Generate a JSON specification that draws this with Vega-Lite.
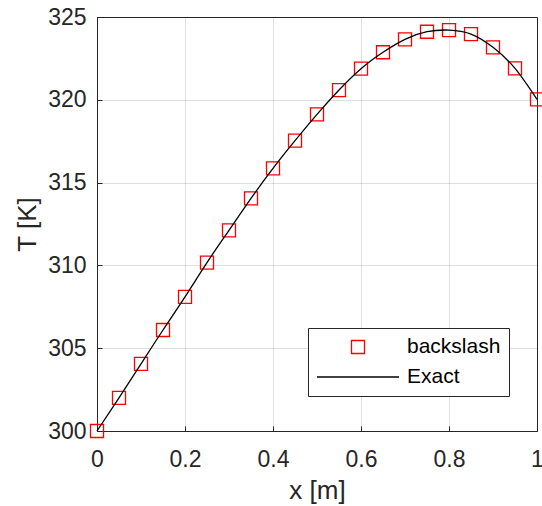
{
  "$schema": "https://vega.github.io/schema/vega-lite/v6.json",
  "autosize": "none",
  "width": 440,
  "height": 414,
  "padding": {"left": 97, "top": 17, "right": 5, "bottom": 75},
  "background": "white",
  "config": {
    "font": "Liberation Sans",
    "view": {"stroke": "#262626", "strokeWidth": 1},
    "axis": {
      "domainColor": "#262626",
      "gridColor": "#262626",
      "gridOpacity": 0.15,
      "labelColor": "#262626",
      "titleColor": "#262626",
      "labelFont": "Liberation Sans",
      "titleFont": "Liberation Sans",
      "labelFontSize": 23,
      "titleFontSize": 26,
      "titleFontWeight": "normal",
      "ticks": true,
      "tickSize": -5,
      "tickColor": "#262626"
    }
  },
  "datasets": {
    "numerical": [
      {"x": 0.0, "T": 300.0, "series": "backslash"},
      {"x": 0.05, "T": 302.0, "series": "backslash"},
      {"x": 0.1, "T": 304.05, "series": "backslash"},
      {"x": 0.15, "T": 306.1, "series": "backslash"},
      {"x": 0.2, "T": 308.1, "series": "backslash"},
      {"x": 0.25, "T": 310.17, "series": "backslash"},
      {"x": 0.3, "T": 312.12, "series": "backslash"},
      {"x": 0.35, "T": 314.05, "series": "backslash"},
      {"x": 0.4, "T": 315.86, "series": "backslash"},
      {"x": 0.45, "T": 317.53, "series": "backslash"},
      {"x": 0.5, "T": 319.12, "series": "backslash"},
      {"x": 0.55, "T": 320.59, "series": "backslash"},
      {"x": 0.6, "T": 321.88, "series": "backslash"},
      {"x": 0.65, "T": 322.87, "series": "backslash"},
      {"x": 0.7, "T": 323.65, "series": "backslash"},
      {"x": 0.75, "T": 324.11, "series": "backslash"},
      {"x": 0.8, "T": 324.21, "series": "backslash"},
      {"x": 0.85, "T": 323.97, "series": "backslash"},
      {"x": 0.9, "T": 323.17, "series": "backslash"},
      {"x": 0.95, "T": 321.9, "series": "backslash"},
      {"x": 1.0, "T": 320.03, "series": "backslash"}
    ],
    "exact": [
      {"x": 0.0, "T": 300.0},
      {"x": 0.05, "T": 302.0},
      {"x": 0.1, "T": 304.05},
      {"x": 0.15, "T": 306.1},
      {"x": 0.2, "T": 308.1},
      {"x": 0.25, "T": 310.17},
      {"x": 0.3, "T": 312.12},
      {"x": 0.35, "T": 314.05},
      {"x": 0.4, "T": 315.86},
      {"x": 0.45, "T": 317.53},
      {"x": 0.5, "T": 319.12},
      {"x": 0.55, "T": 320.59},
      {"x": 0.6, "T": 321.88},
      {"x": 0.65, "T": 322.87},
      {"x": 0.7, "T": 323.65},
      {"x": 0.75, "T": 324.11},
      {"x": 0.8, "T": 324.21},
      {"x": 0.85, "T": 323.97},
      {"x": 0.9, "T": 323.17},
      {"x": 0.95, "T": 321.9},
      {"x": 1.0, "T": 320.03}
    ]
  },
  "encoding": {
    "x": {
      "field": "x",
      "type": "quantitative",
      "scale": {"domain": [0, 1], "nice": false, "zero": false},
      "axis": {"title": "x [m]", "values": [0, 0.2, 0.4, 0.6, 0.8, 1], "format": "~g", "labelPadding": 22, "titlePadding": 6, "labelFlush": false}
    },
    "y": {
      "field": "T",
      "type": "quantitative",
      "scale": {"domain": [300, 325], "nice": false, "zero": false},
      "axis": {"title": "T [K]", "values": [300, 305, 310, 315, 320, 325], "format": "d", "labelPadding": 16, "titlePadding": 7, "labelFlush": false}
    }
  },
  "layer": [
    {
      "data": {"name": "numerical"},
      "mark": {"type": "point", "filled": false, "size": 6724, "strokeWidth": 1.3, "opacity": 1, "clip": false},
      "encoding": {
        "color": {
          "field": "series",
          "type": "nominal",
          "scale": {"domain": ["backslash", "Exact"], "range": ["#ff0000", "#000000"]},
          "legend": {
            "title": null,
            "orient": "none",
            "legendX": 211,
            "legendY": 311,
            "padding": 8,
            "strokeColor": "#262626",
            "fillColor": "white",
            "labelFontSize": 21,
            "labelColor": "#000000",
            "labelOffset": 7,
            "rowPadding": 8,
            "clipHeight": 22,
            "symbolSize": 6724,
            "symbolStrokeWidth": 1.3,
            "symbolFillColor": "transparent"
          }
        },
        "shape": {
          "field": "series",
          "type": "nominal",
          "scale": {"domain": ["backslash", "Exact"], "range": ["M-0.1585,-0.1585H0.1585V0.1585H-0.1585Z", "M-1,0H1"]},
          "legend": {
            "title": null,
            "orient": "none",
            "legendX": 211,
            "legendY": 311,
            "padding": 8,
            "strokeColor": "#262626",
            "fillColor": "white",
            "labelFontSize": 21,
            "labelColor": "#000000",
            "labelOffset": 7,
            "rowPadding": 8,
            "clipHeight": 22,
            "symbolSize": 6724,
            "symbolStrokeWidth": 1.3,
            "symbolFillColor": "transparent"
          }
        }
      }
    },
    {
      "data": {"name": "exact"},
      "mark": {"type": "line", "color": "#000000", "strokeWidth": 1.3, "interpolate": "natural", "clip": false},
      "encoding": {}
    }
  ]
}
